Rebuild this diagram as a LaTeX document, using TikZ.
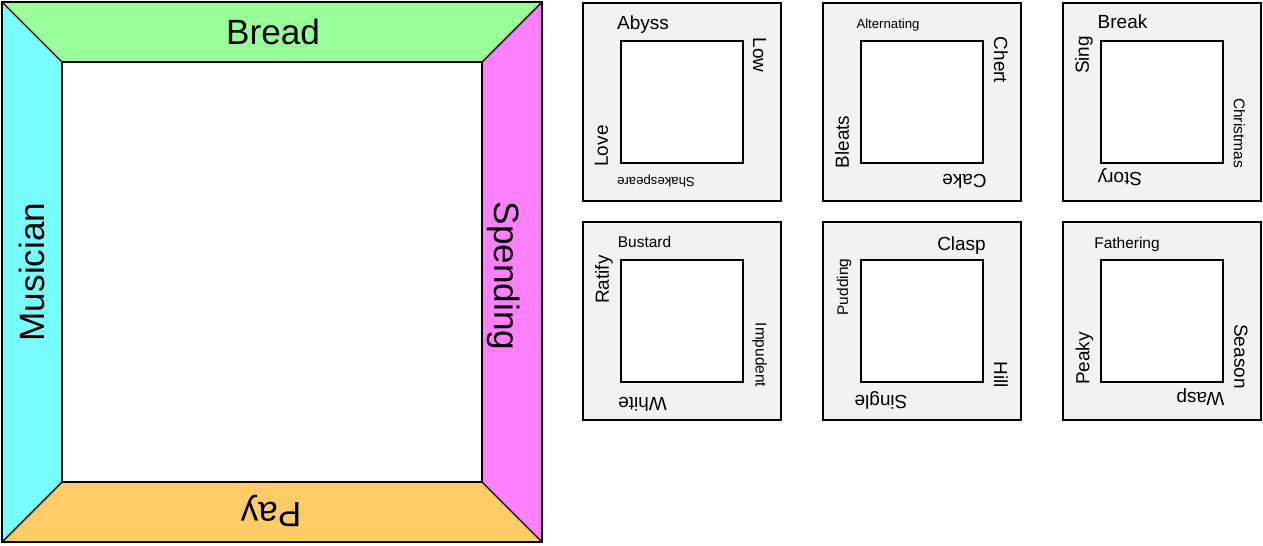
\documentclass[tikz,border=0pt]{standalone}
\usepackage{fontspec}
\setmainfont{Liberation Sans}
\usetikzlibrary{positioning}
\definecolor{breadgreen}{HTML}{99FF99}
\definecolor{musiccyan}{HTML}{77FFFF}
\definecolor{spendpink}{HTML}{FF80FF}
\definecolor{payorange}{HTML}{FFCC66}
\definecolor{tilegray}{HTML}{F2F2F2}
\tikzset{
  frametxt/.style={inner sep=0pt,font=\fontsize{20}{24}\selectfont},
  bigtxt/.style={inner sep=0pt,font=\fontsize{10.8}{13}\selectfont},
  midtxt/.style={inner sep=0pt,font=\fontsize{8.8}{10.5}\selectfont},
  smltxt/.style={inner sep=0pt,font=\fontsize{7.5}{9}\selectfont},
}

\begin{document}
\begin{tikzpicture}[x=0.02cm,y=-0.02cm,line width=1.1pt]
  \useasboundingbox (0,0) rectangle (1263,545);
  % big frame: four coloured trapezoids
  \fill[breadgreen] (2,2) -- (542,2) -- (482,62) -- (62,62) -- cycle;
  \fill[musiccyan] (2,2) -- (62,62) -- (62,482) -- (2,542) -- cycle;
  \fill[spendpink] (542,2) -- (542,542) -- (482,482) -- (482,62) -- cycle;
  \fill[payorange] (2,542) -- (62,482) -- (482,482) -- (542,542) -- cycle;
  \draw[line width=0.8pt] (2,2) -- (62,62) (542,2) -- (482,62)
    (2,542) -- (62,482) (542,542) -- (482,482);
  \draw (2,2) rectangle (542,542);
  \draw[fill=white,line width=1.4pt] (62,62) rectangle (482,482);
  \node[frametxt] (bread) at (273,32) {Bread};
  \node[frametxt,rotate=90] (musician) at (32,272) {Musician};
  \node[frametxt,rotate=-90] (spending) at (504,276) {Spending};
  \node[frametxt,rotate=180] (pay) at (271,511) {Pay};
  % six small tiles
  \foreach \x/\y in {583/3, 823/3, 1063/3, 583/222, 823/222, 1063/222} {
    \filldraw[fill=tilegray] (\x,\y) rectangle ++(198,198);
    \filldraw[fill=white] (\x+38,\y+38) rectangle ++(122,122);
  }
  % tile 1
  \node[bigtxt] (abyss) at (643,25) {Abyss};
  \node[bigtxt,rotate=-90] (low) at (759.5,55) {Low};
  \node[bigtxt,rotate=90] (love) at (601.5,146) {Love};
  \node[smltxt,rotate=180] (shakespeare) at (656,181) {Shakespeare};
  % tile 2
  \node[smltxt] (alternating) at (888,25) {Alternating};
  \node[bigtxt,rotate=-90] (chert) at (1001,60) {Chert};
  \node[bigtxt,rotate=90] (bleats) at (842,142) {Bleats};
  \node[bigtxt,rotate=180] (cake) at (964.5,181) {Cake};
  % tile 3
  \node[bigtxt] (break) at (1122.5,22) {Break};
  \node[bigtxt,rotate=90] (sing) at (1084,55) {Sing};
  \node[midtxt,rotate=-90] (christmas) at (1239.5,133) {Christmas};
  \node[bigtxt,rotate=180] (story) at (1120,177.5) {Story};
  % tile 4
  \node[midtxt] (bustard) at (644.5,242) {Bustard};
  \node[bigtxt,rotate=90] (ratify) at (604,279.5) {Ratify};
  \node[midtxt,rotate=-90] (impudent) at (759.5,355) {Impudent};
  \node[bigtxt,rotate=180] (white) at (642.5,404) {White};
  % tile 5
  \node[bigtxt] (clasp) at (961.5,245.5) {Clasp};
  \node[midtxt,rotate=90] (pudding) at (844,287) {Pudding};
  \node[bigtxt,rotate=-90] (hill) at (1001,375) {Hill};
  \node[bigtxt,rotate=180] (single) at (881,400) {Single};
  % tile 6
  \node[midtxt] (fathering) at (1127,244.5) {Fathering};
  \node[bigtxt,rotate=90] (peaky) at (1084.5,358.5) {Peaky};
  \node[bigtxt,rotate=-90] (season) at (1241,356.5) {Season};
  \node[bigtxt,rotate=180] (wasp) at (1200.5,397.5) {Wasp};
\end{tikzpicture}
\end{document}
